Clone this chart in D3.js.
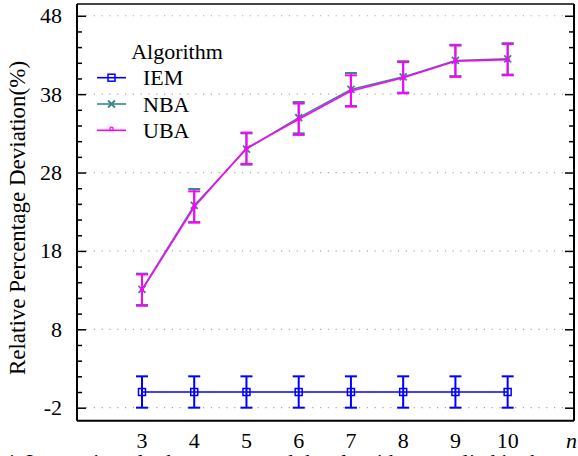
<!DOCTYPE html>
<html>
<head>
<meta charset="utf-8">
<script src="https://cdn.jsdelivr.net/npm/d3@7"></script>
<style>
  body { margin: 0; background: #fff; }
  svg { display: block; }
</style>
</head>
<body>
<div class="svgtarget"></div>
<script>
// values
var nValues = [3, 4, 5, 6, 7, 8, 9, 10];
var iemMean = [0, 0, 0, 0, 0, 0, 0, 0];
var iemErr  = [2, 2, 2, 2, 2, 2, 2, 2];
var nbaMean = [13.1, 23.8, 31.0, 35.0, 38.6, 40.2, 42.3, 42.5];
var nbaErr  = [2, 2.1, 2, 2, 2.1, 2, 2, 2];
var ubaMean = [13.0, 23.6, 31.1, 34.8, 38.4, 40.1, 42.2, 42.4];
var ubaErr  = [2, 2, 2, 2, 2, 2, 2, 2];
var yTicks  = [-2, 8, 18, 28, 38, 48];
var seriesNames = ["IEM", "NBA", "UBA"];

var drawChart = function () {
    var W = 578, H = 456;
    var pLeft = 77, pRight = 574, pTop = 4, pBottom = 420.7;

    var svg = d3.select(".svgtarget").append("svg")
        .attr("width", W).attr("height", H)
        .attr("font-family", "Liberation Serif")
        .attr("font-size", 22);

    var x = d3.scaleLinear().domain([1.756, 11.27]).range([pLeft, pRight]);
    var y = d3.scaleLinear().domain([-3.66, 49.5]).range([pBottom, pTop]);

    // dotted grid at major ticks
    svg.append("g").selectAll("line").data(yTicks).enter().append("line")
        .attr("x1", pLeft + 9).attr("x2", pRight - 9)
        .attr("y1", d => y(d)).attr("y2", d => y(d))
        .attr("stroke", "#aaa").attr("stroke-width", 1.2)
        .attr("stroke-dasharray", "1.2,6.6");

    // left / right axes, ticks pointing inward
    var minor = d3.range(-2, 49, 2);
    var gl = svg.append("g").attr("transform", "translate(" + pLeft + ",0)")
        .call(d3.axisRight(y).tickValues(minor).tickFormat(""));
    var gr = svg.append("g").attr("transform", "translate(" + pRight + ",0)")
        .call(d3.axisLeft(y).tickValues(minor).tickFormat(""));
    gl.select(".domain").remove();
    gr.select(".domain").remove();
    gl.selectAll(".tick line").attr("stroke", "#000").attr("stroke-width", 1.5)
        .attr("x2", d => yTicks.indexOf(d) >= 0 ? 9 : 5);
    gr.selectAll(".tick line").attr("stroke", "#000").attr("stroke-width", 1.5)
        .attr("x2", d => yTicks.indexOf(d) >= 0 ? -9 : -5);

    // y tick labels
    svg.append("g").selectAll("text").data(yTicks).enter().append("text")
        .attr("x", 62).attr("y", d => y(d) + 7.5)
        .attr("text-anchor", "end")
        .text(d => d);

    // x tick labels
    svg.append("g").selectAll("text").data(nValues).enter().append("text")
        .attr("x", d => x(d)).attr("y", 448)
        .attr("text-anchor", "middle")
        .text(d => d);
    svg.append("text").attr("x", 566).attr("y", 448)
        .style("font-style", "italic").text("n");

    // frame
    svg.append("line").attr("x1", pLeft).attr("x2", pRight).attr("y1", pTop).attr("y2", pTop)
        .attr("stroke", "#444").attr("stroke-width", 2);
    svg.append("line").attr("x1", pLeft).attr("x2", pRight).attr("y1", pBottom).attr("y2", pBottom)
        .attr("stroke", "#000").attr("stroke-width", 2);
    svg.append("line").attr("x1", pLeft).attr("x2", pLeft).attr("y1", pTop).attr("y2", pBottom)
        .attr("stroke", "#000").attr("stroke-width", 2);
    svg.append("line").attr("x1", pRight).attr("x2", pRight).attr("y1", pTop).attr("y2", pBottom)
        .attr("stroke", "#000").attr("stroke-width", 2);

    // y label
    svg.append("text")
        .attr("transform", "translate(25,218) rotate(-90)")
        .attr("text-anchor", "middle").attr("font-size", 23)
        .text("Relative Percentage Deviation(%)");

    var colors = { IEM: "#0000ff", NBA: "#3a8787", UBA: "#ff00ff" };
    var data = {
        IEM: nValues.map((n, i) => ({ n: n, v: iemMean[i], e: iemErr[i] })),
        NBA: nValues.map((n, i) => ({ n: n, v: nbaMean[i], e: nbaErr[i] })),
        UBA: nValues.map((n, i) => ({ n: n, v: ubaMean[i], e: ubaErr[i] }))
    };

    var drawMarker = function (g, name, cx, cy) {
        var c = colors[name];
        if (name == "IEM") {
            g.append("rect").attr("x", cx - 3.5).attr("y", cy - 3.5)
                .attr("width", 7).attr("height", 7)
                .attr("fill", "none").attr("stroke", c).attr("stroke-width", 1.5);
        } else if (name == "NBA") {
            g.append("path").attr("d", "M" + (cx - 3.5) + "," + (cy - 3.5) + "L" + (cx + 3.5) + "," + (cy + 3.5) +
                    "M" + (cx - 3.5) + "," + (cy + 3.5) + "L" + (cx + 3.5) + "," + (cy - 3.5))
                .attr("stroke", c).attr("stroke-width", 1.8);
        } else {
            g.append("circle").attr("cx", cx).attr("cy", cy).attr("r", 1.6)
                .attr("fill", "none").attr("stroke", c).attr("stroke-width", 1.3);
        }
    };

    var line = d3.line().x(d => x(d.n)).y(d => y(d.v));

    seriesNames.forEach(function (name) {
        var g = svg.append("g");
        var c = colors[name];
        g.append("path").datum(data[name]).attr("d", line)
            .attr("fill", "none").attr("stroke", c).attr("stroke-width", 1.6);
        var eb = g.selectAll(".eb").data(data[name]).enter().append("g");
        eb.append("line").attr("x1", d => x(d.n)).attr("x2", d => x(d.n))
            .attr("y1", d => y(d.v - d.e)).attr("y2", d => y(d.v + d.e))
            .attr("stroke", c).attr("stroke-width", 2);
        eb.append("line").attr("x1", d => x(d.n) - 6).attr("x2", d => x(d.n) + 6)
            .attr("y1", d => y(d.v + d.e)).attr("y2", d => y(d.v + d.e))
            .attr("stroke", c).attr("stroke-width", 2);
        eb.append("line").attr("x1", d => x(d.n) - 6).attr("x2", d => x(d.n) + 6)
            .attr("y1", d => y(d.v - d.e)).attr("y2", d => y(d.v - d.e))
            .attr("stroke", c).attr("stroke-width", 2);
        data[name].forEach(function (d) { drawMarker(g, name, x(d.n), y(d.v)); });
    });

    // legend
    var leg = svg.append("g");
    leg.append("text").attr("x", 177).attr("y", 59).attr("text-anchor", "middle")
        .text("Algorithm");
    seriesNames.forEach(function (name, i) {
        var ly = 77.7 + i * 26.3;
        leg.append("line").attr("x1", 97).attr("x2", 126).attr("y1", ly).attr("y2", ly)
            .attr("stroke", colors[name]).attr("stroke-width", 1.6);
        drawMarker(leg, name, 111.5, name == "UBA" ? ly - 1.5 : ly);
        leg.append("text").attr("x", 143).attr("y", ly + 7.5)
            .text(name);
    });

    // caption line, cut off by the bottom edge like in the source
    svg.append("text").attr("x", 4).attr("y", 469)
        .text("4. Interaction plot between n and the algorithms applied in the");
};

drawChart();
</script>
</body>
</html>
